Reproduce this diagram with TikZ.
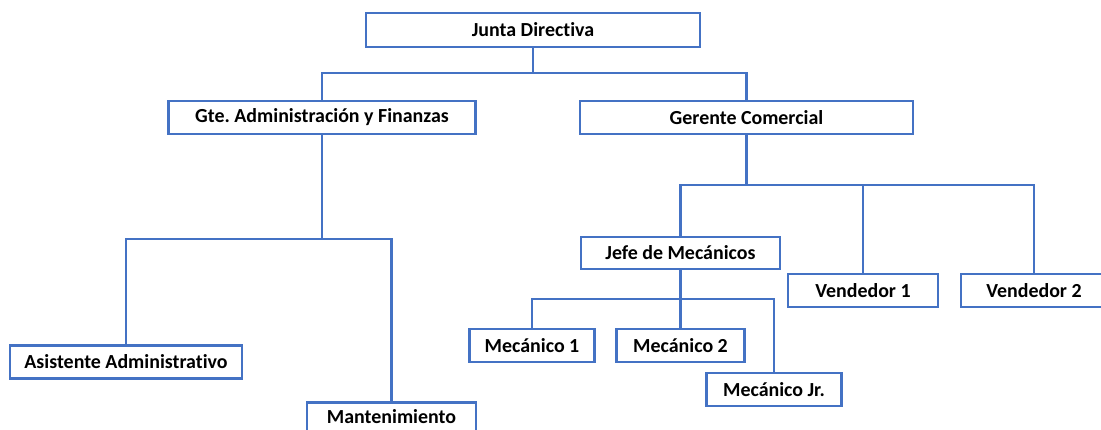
\documentclass[tikz,border=0pt]{standalone}
\usepackage{fontspec}
\setmainfont[Ligatures={NoCommon,NoRare}]{Carlito}
\definecolor{obl}{RGB}{68,114,196}
\frenchspacing
\begin{document}
\begin{tikzpicture}[x=1bp,y=-1bp,
  box/.style={draw=obl,line width=2.8bp,fill=white,inner sep=0pt,
    font=\fontsize{20}{22}\selectfont\bfseries,text=black},
  link/.style={draw=obl,line width=2.8bp}]
\clip (0,0) rectangle (1101,429);
\fill[white] (0,0) rectangle (1101,429);
% boxes: centre, width, height
\node[box,minimum width=334bp,minimum height=34bp] (jd) at (533,30) {Junta Directiva};
\node[box,minimum width=307bp,minimum height=33bp] (ga) at (322,117.5) {Gte. Administración y Finanzas};
\node[box,minimum width=333bp,minimum height=33bp] (gc) at (746.5,117.5) {Gerente Comercial};
\node[box,minimum width=232bp,minimum height=33bp] (aa) at (126,362) {Asistente Administrativo};
\node[box,minimum width=169bp,minimum height=39bp,anchor=north] (mt) at (391.5,401) {};
\node[font=\fontsize{20}{22}\selectfont\bfseries] (mtt) at (391.5,417) {Mantenimiento};
\node[box,minimum width=199bp,minimum height=32bp] (jm) at (680.5,253) {Jefe de Mecánicos};
\node[box,minimum width=150bp,minimum height=33bp] (v1) at (863,290.5) {Vendedor 1};
\node[box,minimum width=146bp,minimum height=33bp] (v2) at (1034,290.5) {Vendedor 2};
\node[box,minimum width=125bp,minimum height=33bp] (m1) at (532,345.5) {Mecánico 1};
\node[box,minimum width=128bp,minimum height=33bp] (m2) at (680.5,345.5) {Mecánico 2};
\node[box,minimum width=135bp,minimum height=33bp] (mj) at (774,389.5) {Mecánico Jr.};
% bus coordinates
\coordinate (b1) at (533,73);
\coordinate (b2) at (322,239);
\coordinate (b3) at (746.5,185);
\coordinate (b4) at (680.5,299);
% connectors
\draw[link] (jd.south) -- (b1);
\draw[link] (ga.north) |- (b1) -| (gc.north);
\draw[link] (ga.south) -- (b2);
\draw[link] (aa.north) |- (b2) -| (mt.north);
\draw[link] (gc.south) -- (b3);
\draw[link] (jm.north) |- (b3) -| (v2.north);
\draw[link] (v1.north) -- (v1.north |- b3);
\draw[link] (jm.south) -- (b4);
\draw[link] (m1.north) |- (b4) -| (mj.north);
\draw[link] (m2.north) -- (m2.north |- b4);
\end{tikzpicture}
\end{document}
